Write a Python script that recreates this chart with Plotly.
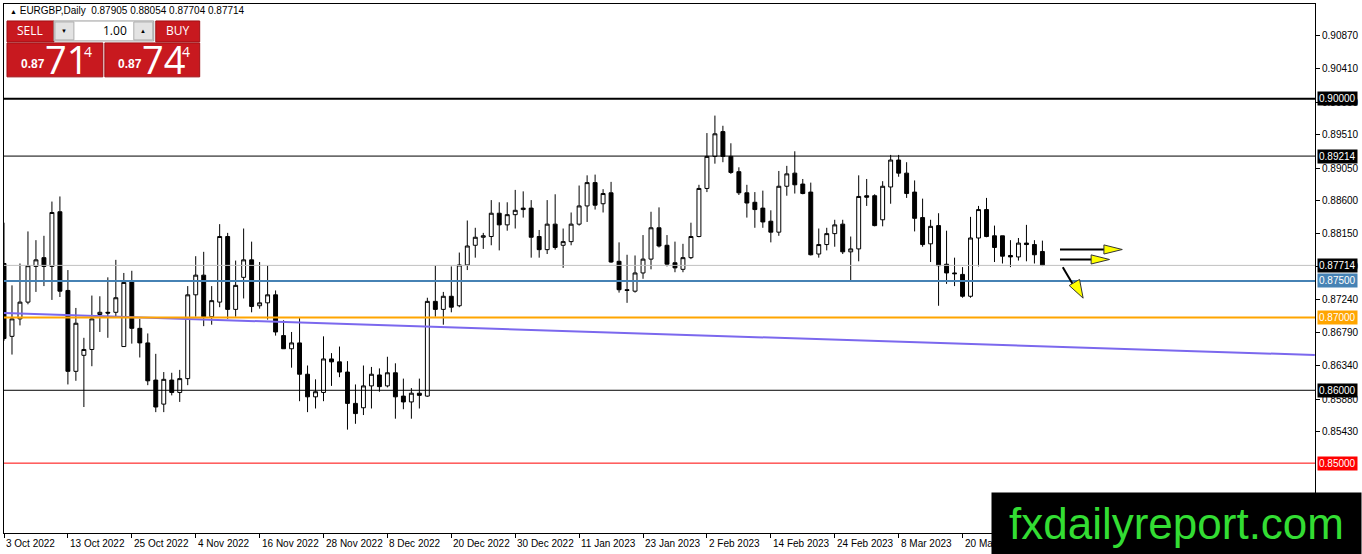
import plotly.graph_objects as go

# EURGBP daily candles, 3 Oct 2022 .. 3 Apr 2023 (one entry per trading day)
opens = [0.8774, 0.8674, 0.8698, 0.8721, 0.8770, 0.8782, 0.8770, 0.8845, 0.8737, 0.8626,
         0.8648, 0.8656, 0.8704, 0.8707, 0.8707, 0.8660, 0.8750, 0.8685, 0.8665, 0.8614,
         0.8581, 0.8614, 0.8597, 0.8616, 0.8731, 0.8758, 0.8701, 0.8721, 0.8811, 0.8711,
         0.8755, 0.8779, 0.8716, 0.8720, 0.8731, 0.8675, 0.8657, 0.8665, 0.8622, 0.8591,
         0.8597, 0.8643, 0.8639, 0.8625, 0.8582, 0.8576, 0.8606, 0.8621, 0.8606, 0.8624,
         0.8592, 0.8584, 0.8596, 0.8592, 0.8722, 0.8711, 0.8729, 0.8716, 0.8772, 0.8799,
         0.8810, 0.8811, 0.8843, 0.8827, 0.8841, 0.8848, 0.8850, 0.8811, 0.8793, 0.8828,
         0.8799, 0.8804, 0.8828, 0.8853, 0.8885, 0.8856, 0.8871, 0.8777, 0.8738, 0.8736,
         0.8761, 0.8780, 0.8823, 0.8799, 0.8775, 0.8766, 0.8782, 0.8811, 0.8877, 0.8921,
         0.8955, 0.8921, 0.8900, 0.8871, 0.8858, 0.8850, 0.8832, 0.8817, 0.8880, 0.8898,
         0.8883, 0.8872, 0.8787, 0.8800, 0.8815, 0.8828, 0.8790, 0.8794, 0.8867, 0.8867,
         0.8834, 0.8879, 0.8916, 0.8898, 0.8872, 0.8837, 0.8801, 0.8826, 0.8773, 0.8761,
         0.8759, 0.8729, 0.8809, 0.8848, 0.8812, 0.8812, 0.8785, 0.8783, 0.8802, 0.8800,
         0.87905]
highs = [0.8830, 0.8744, 0.8774, 0.8818, 0.8806, 0.8812, 0.8859, 0.8866, 0.8765, 0.8713,
         0.8672, 0.8730, 0.8729, 0.8755, 0.8779, 0.8761, 0.8764, 0.8698, 0.8678, 0.8650,
         0.8625, 0.8624, 0.8628, 0.8743, 0.8784, 0.8790, 0.8743, 0.8828, 0.8816, 0.8778,
         0.8822, 0.8804, 0.8776, 0.8771, 0.8737, 0.8696, 0.8680, 0.8699, 0.8634, 0.8615,
         0.8674, 0.8651, 0.8660, 0.8640, 0.8608, 0.8634, 0.8632, 0.8630, 0.8646, 0.8637,
         0.8616, 0.8603, 0.8616, 0.8727, 0.8771, 0.8735, 0.8770, 0.8789, 0.8833, 0.8823,
         0.8816, 0.8861, 0.8858, 0.8858, 0.8875, 0.8873, 0.8861, 0.8820, 0.8861, 0.8869,
         0.8822, 0.8844, 0.8881, 0.8895, 0.8896, 0.8876, 0.8886, 0.8803, 0.8786, 0.8785,
         0.8813, 0.8845, 0.8851, 0.8813, 0.8804, 0.8801, 0.8830, 0.8882, 0.8953, 0.8977,
         0.8963, 0.8939, 0.8906, 0.8882, 0.8872, 0.8874, 0.8847, 0.8901, 0.8908, 0.8928,
         0.8890, 0.8885, 0.8822, 0.8823, 0.8834, 0.8834, 0.8811, 0.8895, 0.8890, 0.8869,
         0.8887, 0.8923, 0.8923, 0.8913, 0.8888, 0.8863, 0.8834, 0.8843, 0.8819, 0.8782,
         0.8769, 0.8838, 0.8853, 0.8864, 0.8826, 0.8812, 0.8806, 0.8809, 0.8827, 0.8806,
         0.88054]
lows = [0.8668, 0.8649, 0.8689, 0.8718, 0.8735, 0.8743, 0.8724, 0.8728, 0.8608, 0.8613,
        0.8577, 0.8633, 0.8680, 0.8672, 0.8700, 0.8660, 0.8664, 0.8645, 0.8607, 0.8570,
        0.8570, 0.8593, 0.8584, 0.8607, 0.8701, 0.8688, 0.8690, 0.8714, 0.8698, 0.8701,
        0.8726, 0.8707, 0.8712, 0.8697, 0.8675, 0.8657, 0.8631, 0.8585, 0.8570, 0.8575,
        0.8585, 0.8606, 0.8618, 0.8546, 0.8554, 0.8566, 0.8575, 0.8598, 0.8604, 0.8561,
        0.8574, 0.8561, 0.8575, 0.8591, 0.8701, 0.8690, 0.8707, 0.8714, 0.8765, 0.8782,
        0.8794, 0.8799, 0.8792, 0.8819, 0.8822, 0.8837, 0.8782, 0.8782, 0.8787, 0.8793,
        0.8768, 0.8799, 0.8826, 0.8831, 0.8848, 0.8844, 0.8775, 0.8734, 0.8720, 0.8734,
        0.8753, 0.8766, 0.8796, 0.8770, 0.8762, 0.8762, 0.8780, 0.8810, 0.8872, 0.8911,
        0.8913, 0.8897, 0.8868, 0.8837, 0.8823, 0.8823, 0.8803, 0.8812, 0.8867, 0.8870,
        0.8869, 0.8785, 0.8782, 0.8792, 0.8797, 0.8787, 0.8751, 0.8777, 0.8853, 0.8825,
        0.8825, 0.8856, 0.8893, 0.8864, 0.8818, 0.8797, 0.8776, 0.8716, 0.8746, 0.8743,
        0.8727, 0.8727, 0.8770, 0.8810, 0.8776, 0.8774, 0.8769, 0.8778, 0.8777, 0.8774,
        0.87704]
closes = [0.8671, 0.8698, 0.8721, 0.8771, 0.8779, 0.8770, 0.8844, 0.8736, 0.8626, 0.8692,
          0.8656, 0.8698, 0.8707, 0.8706, 0.8727, 0.8748, 0.8685, 0.8665, 0.8613, 0.8577,
          0.8615, 0.8597, 0.8616, 0.8731, 0.8758, 0.8701, 0.8723, 0.8811, 0.8711, 0.8744,
          0.8779, 0.8715, 0.8720, 0.8731, 0.8680, 0.8657, 0.8665, 0.8622, 0.8591, 0.8598,
          0.8643, 0.8639, 0.8625, 0.8582, 0.8568, 0.8606, 0.8622, 0.8605, 0.8624, 0.8591,
          0.8584, 0.8596, 0.8593, 0.8722, 0.8711, 0.8729, 0.8714, 0.8772, 0.8798, 0.8810,
          0.8812, 0.8843, 0.8827, 0.8841, 0.8847, 0.8850, 0.8810, 0.8793, 0.8828, 0.8796,
          0.8804, 0.8828, 0.8853, 0.8885, 0.8854, 0.8870, 0.8776, 0.8738, 0.8737, 0.8761,
          0.8780, 0.8823, 0.8798, 0.8773, 0.8768, 0.8782, 0.8811, 0.8877, 0.8921, 0.8952,
          0.8921, 0.8899, 0.8871, 0.8857, 0.8848, 0.8831, 0.8817, 0.8880, 0.8897, 0.8882,
          0.8870, 0.8786, 0.8800, 0.8815, 0.8827, 0.8790, 0.8794, 0.8866, 0.8865, 0.8826,
          0.8880, 0.8916, 0.8898, 0.8870, 0.8836, 0.8800, 0.8825, 0.8771, 0.8761, 0.8760,
          0.8729, 0.8809, 0.8848, 0.8811, 0.8796, 0.8784, 0.8783, 0.8802, 0.8800, 0.8786,
          0.87714]

tick_bars = [0, 8, 16, 24, 32, 40, 48, 56, 64, 72, 80, 88, 96, 104, 112, 120]
tick_labels = ["3 Oct 2022", "13 Oct 2022", "25 Oct 2022", "4 Nov 2022", "16 Nov 2022",
               "28 Nov 2022", "8 Dec 2022", "20 Dec 2022", "30 Dec 2022", "11 Jan 2023",
               "23 Jan 2023", "2 Feb 2023", "14 Feb 2023", "24 Feb 2023", "8 Mar 2023",
               "20 Mar 2023"]
price_ticks = [0.90870, 0.90410, 0.89950, 0.89510, 0.89050, 0.88600, 0.88150,
               0.87700, 0.87240, 0.86790, 0.86340, 0.85880, 0.85430]

# horizontal levels drawn on the chart
levels = [0.87714, 0.90000, 0.89214, 0.87500, 0.87000, 0.86000, 0.85000]
level_colors = ["#C0C0C0", "black", "black", "#4682B4", "#FFA500", "black", "red"]
level_widths = [1, 2, 1, 2, 2, 1, 1]
label_colors = ["black", "black", "black", "#4682B4", "#FFA500", "black", "red"]

# trend line
trend_x = [0, 164.1]
trend_y = [0.87059, 0.86484]

# hand drawn arrows (bar index, price)
arrow_lines = [(132.2, 0.87932, 137.8, 0.87932),
               (132.2, 0.87795, 136.3, 0.87795),
               (132.55, 0.87689, 133.9, 0.87438)]
arrow_heads = [[(137.7, 0.87995), (140.0, 0.87932), (137.7, 0.87870)],
               [(136.1, 0.87858), (138.4, 0.87795), (136.1, 0.87733)],
               [(134.65, 0.87521), (135.1, 0.87264), (133.35, 0.87438)]]

W, H = 1362, 554
L, R, T, B = 3, 1316, 3, 533


def px(x):
    return (x - L) / (R - L)


def py(y):
    return (B - y) / (B - T)


bars = list(range(len(opens)))

fig = go.Figure()
fig.add_trace(go.Candlestick(
    x=bars, open=opens, high=highs, low=lows, close=closes,
    increasing=dict(line=dict(color="black", width=1), fillcolor="white"),
    decreasing=dict(line=dict(color="black", width=1), fillcolor="black"),
    whiskerwidth=0, showlegend=False, hoverinfo="skip",
))
fig.add_trace(go.Scatter(x=trend_x, y=trend_y, mode="lines",
                         line=dict(color="#7B68EE", width=2),
                         showlegend=False, hoverinfo="skip"))

shapes = []
for v, c, w in zip(levels, level_colors, level_widths):
    shapes.append(dict(type="line", xref="paper", x0=0, x1=1, yref="y", y0=v, y1=v,
                       line=dict(color=c, width=w), layer="above"))

for x0, y0, x1, y1 in arrow_lines:
    shapes.append(dict(type="line", xref="x", yref="y", x0=x0, y0=y0, x1=x1, y1=y1,
                       line=dict(color="black", width=2), layer="above"))
for pts in arrow_heads:
    path = "M " + " L ".join(f"{a},{b}" for a, b in pts) + " Z"
    shapes.append(dict(type="path", xref="x", yref="y", path=path,
                       fillcolor="#FFFF00", line=dict(color="#333333", width=1),
                       layer="above"))

# one-click trading panel
RED = "#C8191F"


def box(x0, y0, x1, y1, fill, line=None):
    shapes.append(dict(type="rect", xref="paper", yref="paper",
                       x0=px(x0), x1=px(x1), y0=py(y1), y1=py(y0),
                       fillcolor=fill, layer="above",
                       line=dict(color=line or fill, width=1)))


box(6, 20, 53, 41, RED, "#9E1015")
box(155, 20, 199, 41, RED, "#9E1015")
box(53, 20, 153, 40, "white", "#9A9A9A")
box(54, 21, 73, 39, "#E3E3E3", "#ADADAD")
box(133, 21, 152, 39, "#E3E3E3", "#ADADAD")
box(6, 42, 102, 76, RED, "#9E1015")
box(104, 42, 199, 76, RED, "#9E1015")

ann = []


def text(x, y, s, size, color="white", anchor="center", family="Open Sans", **kw):
    ann.append(dict(xref="paper", yref="paper", x=px(x), y=py(y), text=s,
                    showarrow=False, xanchor=anchor, yanchor="middle",
                    font=dict(size=size, color=color, family=family), **kw))


text(7, 10, "<span style='font-size:7px'>▲</span> EURGBP,Daily  0.87905 0.88054 0.87704 0.87714",
     10, "black", "left", "Liberation Sans")
text(29, 30, "SELL", 12)
text(177, 30, "BUY", 12)
text(63.5, 30, "▼", 6, "black")
text(142.5, 30, "▲", 6, "black")
text(128, 30, "1.00", 12, "black", "right")
text(32, 63, "<b>0.87</b>", 12, family="Liberation Sans")
text(65.5, 58, "71", 38)
text(87, 51, "4", 14)
text(129.5, 63, "<b>0.87</b>", 12, family="Liberation Sans")
text(162.5, 58, "74", 38)
text(185, 51, "4", 14)

for b, s in zip(tick_bars, tick_labels):
    ann.append(dict(xref="x", yref="paper", x=b, y=0, yshift=-3, text=s,
                    showarrow=False, xanchor="left", yanchor="top",
                    font=dict(size=10, color="black", family="Liberation Sans")))

for v, c in zip(levels, label_colors):
    ann.append(dict(xref="paper", yref="y", x=px(1318), y=v, text=f"{v:.5f}",
                    showarrow=False, xanchor="left", yanchor="middle", bgcolor=c,
                    borderpad=1, font=dict(size=10, color="white", family="Liberation Sans")))

ann.append(dict(xref="paper", yref="paper", x=px(1177.5), y=py(523.5),
                text="fxdailyreport.com", showarrow=False, xanchor="center",
                yanchor="middle", bgcolor="black", width=369, height=61, borderpad=0,
                font=dict(size=44, color="#33DD33",
                          family="Liberation Sans Narrow, Arial Narrow, Liberation Sans")))

fig.update_layout(
    width=W, height=H,
    margin=dict(l=L, r=W - R, t=T, b=H - B, pad=0),
    paper_bgcolor="white", plot_bgcolor="white",
    font=dict(family="Liberation Sans", size=10, color="black"),
    shapes=shapes, annotations=ann, showlegend=False,
    xaxis=dict(range=[0, (R - L) / 8], tickvals=tick_bars, showticklabels=False,
               ticks="outside", ticklen=4, tickcolor="black", showgrid=False,
               zeroline=False, showline=True, mirror=True, linecolor="black",
               linewidth=1, rangeslider=dict(visible=False), fixedrange=True),
    yaxis=dict(range=[0.840411, 0.913014], side="right", tickvals=price_ticks,
               ticktext=[f"{v:.5f}" for v in price_ticks], ticks="outside", ticklen=4,
               tickcolor="black", showgrid=False, zeroline=False, showline=True,
               mirror=True, linecolor="black", linewidth=1,
               tickfont=dict(size=10, color="black", family="Liberation Sans"),
               fixedrange=True),
)

fig.write_html("out.html", config={"displayModeBar": False},
               post_script="document.body.style.margin='0';")
